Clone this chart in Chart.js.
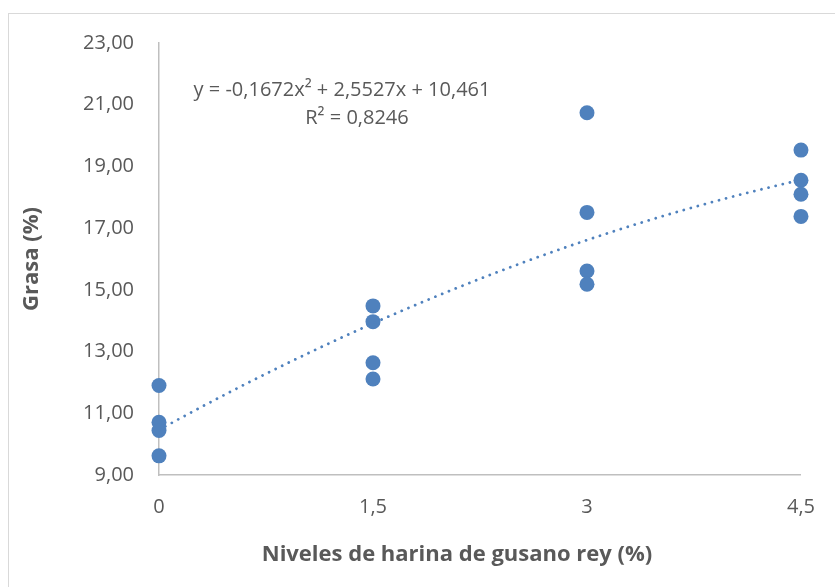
<!DOCTYPE html>
<html>
<head>
<meta charset="utf-8">
<script src="https://cdn.jsdelivr.net/npm/chart.js@4/dist/chart.umd.min.js"></script>
<style>
  html, body { margin: 0; padding: 0; background: #fff; overflow: hidden; }
  #wrap { position: relative; width: 835px; height: 587px; }
</style>
</head>
<body>
<div id="wrap"><canvas id="myChart" width="835" height="587"></canvas></div>
<script>
// niveles de harina (x) and grasa (y)
const niveles = [0, 0, 0, 0, 1.5, 1.5, 1.5, 1.5, 3, 3, 3, 3, 4.5, 4.5, 4.5, 4.5];
const grasa = [11.90, 10.71, 10.44, 9.62, 14.48, 13.97, 12.64, 12.11, 20.74, 17.51, 15.61, 15.18, 19.53, 18.55, 18.10, 17.38];

const xTicks = [0, 1.5, 3, 4.5];
const xTickLabels = ['0', '1,5', '3', '4,5'];
const yTicks = [9, 11, 13, 15, 17, 19, 21, 23];

// polynomial trendline shown on the chart: a*x^2 + b*x + c
const trendCoef = [-0.1672, 2.5527, 10.461];
const equationText = ['y = -0,1672x\u00B2 + 2,5527x + 10,461', 'R\u00B2 = 0,8246'];
const xTitle = 'Niveles de harina de gusano rey (%)';
const yTitle = 'Grasa (%)';

const blue = '#4F81BD';
const axisGray = '#BFBFBF';
const textGray = '#595959';
const fontFamily = '"Open Sans", "Liberation Sans", sans-serif';

const points = niveles.map((x, i) => ({ x: x, y: grasa[i] }));

let trend = [];
for (let i = 0; i <= 90; i++) {
    const x = xTicks[xTicks.length - 1] * i / 90;
    trend.push({ x: x, y: trendCoef[0] * x * x + trendCoef[1] * x + trendCoef[2] });
}

// frame of the chart box and the free texts
const extras = {
    id: 'extras',
    beforeDraw(chart) {
        const ctx = chart.ctx;
        ctx.save();
        ctx.fillStyle = '#fff';
        ctx.fillRect(0, 0, chart.width, chart.height);
        ctx.strokeStyle = '#D9D9D9';
        ctx.lineWidth = 1;
        ctx.strokeRect(8.5, 13.5, 1000, 1000);
        ctx.restore();
    },
    afterDraw(chart) {
        const ctx = chart.ctx;
        ctx.save();
        ctx.fillStyle = textGray;
        ctx.textAlign = 'center';
        ctx.textBaseline = 'alphabetic';
        ctx.font = '20px ' + fontFamily;
        ctx.fillText(equationText[0], 342, 96);
        ctx.fillText(equationText[1], 357, 124);
        ctx.font = 'bold 22px ' + fontFamily;
        ctx.textBaseline = 'middle';
        ctx.fillText(xTitle, 457, 555);
        ctx.restore();
    }
};

new Chart(document.getElementById('myChart').getContext('2d'), {
    type: 'scatter',
    data: {
        datasets: [
            {
                type: 'line',
                label: 'Tendencia',
                data: trend,
                borderColor: blue,
                borderWidth: 2.8,
                borderDash: [0.01, 7.3],
                borderCapStyle: 'round',
                pointRadius: 0,
                fill: false,
                tension: 0,
                order: 0
            },
            {
                label: 'Grasa',
                data: points,
                backgroundColor: blue,
                borderColor: blue,
                borderWidth: 0,
                pointRadius: 7.5,
                pointHoverRadius: 7.5,
                clip: false,
                order: 1
            }
        ]
    },
    options: {
        responsive: false,
        animation: false,
        events: [],
        layout: { padding: { left: 0, top: 43, right: 33, bottom: 0 } },
        plugins: {
            legend: { display: false },
            tooltip: { enabled: false }
        },
        scales: {
            x: {
                type: 'linear',
                min: xTicks[0],
                max: xTicks[xTicks.length - 1],
                afterBuildTicks: (scale) => { scale.ticks = xTicks.map(v => ({ value: v })); },
                afterFit: (scale) => { scale.height = 112; },
                grid: { display: false, drawTicks: false },
                border: { display: true, color: axisGray, width: 1.5 },
                ticks: {
                    padding: 20,
                    color: textGray,
                    font: { family: fontFamily, size: 20 },
                    callback: (v) => xTickLabels[xTicks.indexOf(v)]
                }
            },
            y: {
                min: yTicks[0],
                max: yTicks[yTicks.length - 1],
                afterBuildTicks: (scale) => { scale.ticks = yTicks.map(v => ({ value: v })); },
                afterFit: (scale) => { scale.width = 159; },
                grid: { display: false, drawTicks: false },
                border: { display: true, color: axisGray, width: 1.5 },
                title: {
                    display: true,
                    text: yTitle,
                    color: textGray,
                    font: { family: fontFamily, size: 22, weight: 'bold' },
                    padding: { top: 19, bottom: 0 }
                },
                ticks: {
                    padding: 25,
                    color: textGray,
                    font: { family: fontFamily, size: 20 },
                    callback: (v) => v.toFixed(2).replace('.', ',')
                }
            }
        }
    },
    plugins: [extras]
});
</script>
</body>
</html>
